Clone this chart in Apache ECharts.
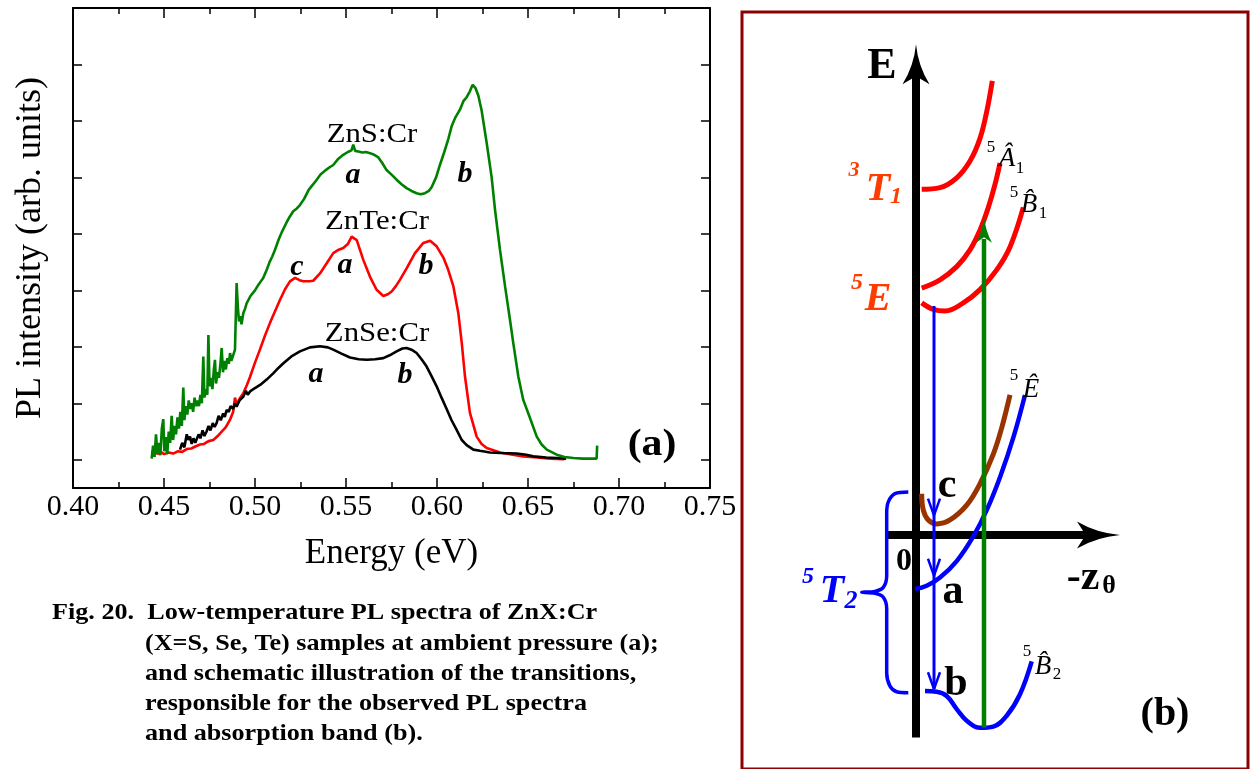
<!DOCTYPE html>
<html><head><meta charset="utf-8">
<script src="https://cdn.jsdelivr.net/npm/echarts@6/dist/echarts.min.js"></script>
<style>html,body{margin:0;padding:0;background:#fff}#c{width:1250px;height:769px}</style>
</head><body><div id="c"></div>
<script>
// ---------- Panel (a) data ----------
const energyMin = 0.40, energyMax = 0.75, energyStep = 0.05;
const intensityTicks = [0, 1, 2, 3, 4, 5, 6, 7, 8];

const znsCr = [[0.4432,0.02],[0.4440,0.25],[0.4448,0.05],[0.4456,0.45],[0.4464,0.10],[0.4472,0.30],[0.4480,0.08],[0.4488,0.55],[0.4496,0.72],[0.4502,0.15],[0.4510,0.40],[0.4518,0.10],[0.4526,0.50],[0.4534,0.30],[0.4542,0.78],[0.4550,0.35],[0.4558,0.60],[0.4566,0.45],[0.4574,0.75],[0.4582,0.55],[0.4590,0.85],[0.4598,0.60],[0.4606,1.28],[0.4612,0.70],[0.4620,0.95],[0.4628,0.80],[0.4636,1.05],[0.4644,0.90],[0.4652,1.00],[0.4660,0.85],[0.4668,1.10],[0.4676,0.95],[0.4684,1.05],[0.4692,0.95],[0.4700,1.15],[0.4708,1.00],[0.4716,1.83],[0.4722,1.10],[0.4730,1.25],[0.4738,1.15],[0.4744,2.21],[0.4750,1.30],[0.4758,1.45],[0.4766,1.25],[0.4774,1.60],[0.4780,1.77],[0.4786,1.35],[0.4794,1.55],[0.4802,1.45],[0.4810,1.70],[0.4817,1.98],[0.4824,1.55],[0.4832,1.75],[0.4840,1.60],[0.4848,1.80],[0.4856,1.70],[0.4863,1.89],[0.4870,1.75],[0.4880,1.85],[0.4890,1.95],[0.4899,3.13],[0.4906,2.70],[0.4912,2.45],[0.4918,2.54],[0.4926,2.40],[0.4936,2.60],[0.4946,2.68],[0.4954,2.77],[0.4964,2.75],[0.4975,2.90],[0.4985,2.88],[0.5000,3.00],[0.5015,3.08],[0.5030,3.15],[0.5045,3.22],[0.5064,3.36],[0.5080,3.50],[0.5095,3.60],[0.5110,3.72],[0.5130,3.90],[0.5150,4.05],[0.5170,4.18],[0.5190,4.30],[0.5210,4.40],[0.5230,4.45],[0.5247,4.51],[0.5270,4.62],[0.5295,4.78],[0.5320,4.88],[0.5339,4.96],[0.5360,5.05],[0.5385,5.12],[0.5410,5.18],[0.5430,5.22],[0.5455,5.32],[0.5485,5.40],[0.5510,5.45],[0.5530,5.48],[0.5540,5.58],[0.5550,5.47],[0.5568,5.46],[0.5590,5.44],[0.5610,5.45],[0.5632,5.43],[0.5655,5.40],[0.5676,5.36],[0.5700,5.25],[0.5723,5.13],[0.5750,5.05],[0.5778,4.96],[0.5805,4.88],[0.5833,4.81],[0.5860,4.76],[0.5888,4.72],[0.5910,4.70],[0.5934,4.72],[0.5955,4.76],[0.5971,4.83],[0.5995,5.00],[0.6016,5.22],[0.6040,5.45],[0.6062,5.68],[0.6080,5.90],[0.6099,6.05],[0.6126,6.20],[0.6145,6.35],[0.6163,6.42],[0.6180,6.52],[0.6196,6.64],[0.6212,6.58],[0.6227,6.45],[0.6245,6.19],[0.6273,5.61],[0.6300,5.01],[0.6319,4.42],[0.6346,3.72],[0.6374,3.07],[0.6401,2.48],[0.6419,2.07],[0.6447,1.47],[0.6474,1.06],[0.6511,0.74],[0.6548,0.41],[0.6575,0.27],[0.6603,0.18],[0.6658,0.09],[0.6700,0.05],[0.6749,0.03],[0.6800,0.02],[0.6877,0.02],[0.6880,0.25]];

const znteCr = [[0.4432,0.12],[0.4450,0.18],[0.4465,0.10],[0.4478,0.15],[0.4500,0.10],[0.4525,0.13],[0.4551,0.11],[0.4575,0.15],[0.4600,0.14],[0.4625,0.19],[0.4650,0.20],[0.4675,0.24],[0.4698,0.27],[0.4720,0.28],[0.4745,0.33],[0.4771,0.35],[0.4795,0.42],[0.4817,0.50],[0.4840,0.58],[0.4863,0.71],[0.4880,0.85],[0.4890,1.10],[0.4899,0.98],[0.4915,1.08],[0.4936,1.18],[0.4955,1.32],[0.4973,1.47],[0.5000,1.72],[0.5027,1.95],[0.5055,2.20],[0.5082,2.42],[0.5110,2.63],[0.5137,2.83],[0.5165,3.02],[0.5192,3.16],[0.5220,3.22],[0.5245,3.18],[0.5265,3.16],[0.5300,3.16],[0.5320,3.17],[0.5357,3.30],[0.5394,3.48],[0.5430,3.66],[0.5460,3.72],[0.5485,3.75],[0.5510,3.82],[0.5531,3.95],[0.5559,3.89],[0.5595,3.54],[0.5632,3.24],[0.5668,3.01],[0.5705,2.90],[0.5730,2.93],[0.5751,2.98],[0.5775,3.08],[0.5797,3.19],[0.5833,3.39],[0.5879,3.66],[0.5925,3.84],[0.5962,3.88],[0.5998,3.78],[0.6035,3.58],[0.6060,3.38],[0.6090,3.07],[0.6117,2.60],[0.6136,2.07],[0.6154,1.47],[0.6181,0.83],[0.6218,0.41],[0.6245,0.28],[0.6273,0.21],[0.6346,0.13],[0.6400,0.10],[0.6474,0.06],[0.6550,0.04],[0.6621,0.02],[0.6700,0.01]];

const znseCr = [[0.4588,0.18],[0.4600,0.30],[0.4612,0.22],[0.4625,0.45],[0.4634,0.35],[0.4643,0.41],[0.4652,0.28],[0.4662,0.38],[0.4672,0.30],[0.4680,0.32],[0.4690,0.45],[0.4700,0.38],[0.4712,0.52],[0.4722,0.42],[0.4734,0.50],[0.4745,0.60],[0.4755,0.52],[0.4768,0.65],[0.4778,0.58],[0.4789,0.65],[0.4800,0.78],[0.4812,0.70],[0.4825,0.82],[0.4834,0.76],[0.4844,0.88],[0.4856,0.85],[0.4866,0.95],[0.4880,0.90],[0.4890,1.00],[0.4899,0.94],[0.4915,1.05],[0.4936,1.12],[0.4950,1.22],[0.4960,1.15],[0.4973,1.21],[0.5000,1.27],[0.5030,1.33],[0.5064,1.42],[0.5100,1.53],[0.5130,1.63],[0.5156,1.71],[0.5200,1.83],[0.5247,1.92],[0.5302,1.99],[0.5357,2.01],[0.5400,1.99],[0.5430,1.95],[0.5475,1.88],[0.5522,1.81],[0.5570,1.78],[0.5614,1.77],[0.5660,1.78],[0.5705,1.80],[0.5740,1.85],[0.5778,1.92],[0.5810,1.97],[0.5833,1.98],[0.5860,1.95],[0.5888,1.89],[0.5915,1.78],[0.5943,1.65],[0.5970,1.48],[0.5998,1.30],[0.6025,1.10],[0.6053,0.90],[0.6080,0.70],[0.6108,0.53],[0.6136,0.35],[0.6163,0.26],[0.6200,0.18],[0.6236,0.16],[0.6291,0.13],[0.6350,0.12],[0.6438,0.11],[0.6490,0.09],[0.6529,0.06],[0.6600,0.04],[0.6658,0.03],[0.6710,0.02]];

// ---------- Panel (b) schematic data (z, E in schematic units) ----------
const level3T1   = [[4.7,350.3],[23,352],[39.7,362],[53,379],[63,402],[69.7,429],[75.3,460.3]];
const level5A1   = [[4.7,250.3],[23,258.7],[39.7,272],[53,289],[63,309],[71.3,332],[78,355.3],[83,377]];
const level5B1   = [[4.7,235.3],[16.3,228.7],[28,227],[46.3,235.3],[63,248.7],[79.7,268.7],[93,292],[106.3,332]];
const level5Ehat = [[4.7,42],[6.3,25.3],[11.3,15.3],[19.7,11.3],[33,15.3],[49.7,30.3],[63,52],[76.3,82],[84.7,108.7],[93,142]];
const level5T2a  = [[-2,-54.7],[9.7,-51.3],[23,-43],[39.7,-26.3],[56.3,-1.3],[69.7,25.3],[83,58.7],[96.3,98.7],[108,142]];
const level5B2   = [[8,-158],[19.7,-158.7],[29.7,-163],[39.7,-176.3],[49.7,-188],[63,-195.3],[76.3,-194],[89.7,-183],[103,-161.3],[114.7,-128]];
const brace5T2   = [[-8.7,43.7],[-22,42],[-28.7,33.7],[-30.3,22],[-30.3,-41.3],[-33.7,-53],[-42,-57],[-55.3,-58],[-42,-59],[-33.7,-63],[-30.3,-74.7],[-30.3,-139.7],[-27,-153],[-20.3,-158.7],[-8.7,-159.7]];
const emissionLine = [[17,232],[17,-156]];
const chevronC = [[11,37],[17,20],[23,37]];
const chevronA = [[11,-24],[17,-41],[23,-24]];
const chevronB = [[11,-139],[17,-156],[23,-139]];
const absorptionLine = [[67,-195],[67,300]];
const energyAxis = [[-1,-205],[-1,470]];
const zAxis = [[-29,0],[180,0]];
const energyArrowHead = [[-1,477]];
const zArrowHead = [[181.5,0]];
const absorptionArrowHead = [[67,310]];

// ---------- chart ----------
const F = "'Liberation Serif','Times New Roman',serif";
const chart = echarts.init(document.getElementById('c'), null, {renderer: 'canvas', width: 1250, height: 769});

function txt(x, y, text, size, o) {
  o = o || {};
  return {type: 'text', x: x, y: y, z: 100, silent: true, scaleX: o.sx || 1,
    style: {text: text, fontFamily: F, fontSize: size, fontWeight: o.w || 'normal',
      fontStyle: o.i ? 'italic' : 'normal', fill: o.c || '#000',
      align: o.a || 'center', verticalAlign: 'middle'}};
}

const ORANGE = '#ff3c00', BLUE = '#0000ff';
const UP = 'path://M50,0 Q58,55 100,100 L50,80 L0,100 Q42,55 50,0 Z';
const RIGHT = 'path://M100,50 Q45,58 0,100 L20,50 L0,0 Q45,42 100,50 Z';

function frameX(pos, showLabel) {
  return {type: 'value', gridIndex: 0, min: energyMin, max: energyMax, interval: energyStep, position: pos,
    axisLine: {onZero: false, lineStyle: {color: '#000', width: 2}},
    axisTick: {inside: true, length: 10, lineStyle: {color: '#000', width: 1.5}},
    minorTick: {show: true, splitNumber: 2, length: 6, lineStyle: {color: '#000', width: 1.5}},
    axisLabel: {show: showLabel, formatter: v => v.toFixed(2), fontFamily: F, fontSize: 30, color: '#000', margin: 4,
      showMinLabel: true, showMaxLabel: true},
    splitLine: {show: false}, minorSplitLine: {show: false}};
}
function frameY(pos) {
  return {type: 'value', gridIndex: 0, min: -0.5, max: 8, position: pos,
    axisLine: {onZero: false, lineStyle: {color: '#000', width: 2}},
    axisTick: {inside: true, length: 9, customValues: intensityTicks, lineStyle: {color: '#000', width: 1.5}},
    axisLabel: {show: false}, splitLine: {show: false}};
}
const xBottom = frameX('bottom', true);
xBottom.name = 'Energy (eV)'; xBottom.nameLocation = 'middle'; xBottom.nameGap = 48;
xBottom.nameTextStyle = {fontFamily: F, fontSize: 35, color: '#000'};
const yLeft = frameY('left');
yLeft.name = 'PL intensity (arb. units)'; yLeft.nameLocation = 'middle'; yLeft.nameGap = 24;
yLeft.nameTextStyle = {fontFamily: F, fontSize: 36, color: '#000'};

function spec(name, data, color) {
  return {name: name, type: 'line', xAxisIndex: 0, yAxisIndex: 0, data: data, showSymbol: false, symbol: 'none',
    lineStyle: {color: color, width: 2.6}, itemStyle: {color: color}, z: 3};
}
function sch(name, data, color, width, smooth, z) {
  return {name: name, type: 'line', xAxisIndex: 2, yAxisIndex: 2, data: data, symbol: 'none', smooth: smooth,
    lineStyle: {color: color, width: width, cap: 'butt'}, itemStyle: {color: color}, z: z || 5, silent: true};
}
function head(name, data, sym, size, color) {
  return {name: name, type: 'scatter', xAxisIndex: 2, yAxisIndex: 2, data: data, symbol: sym, symbolSize: size,
    itemStyle: {color: color, opacity: 1}, z: 6, silent: true};
}

const option = {
  animation: false,
  backgroundColor: '#fff',
  grid: [
    {left: 73, top: 8, width: 637, height: 480, containLabel: false},
    {left: 742, top: 12, width: 506, height: 767, show: true, borderColor: '#8b0000', borderWidth: 3, backgroundColor: 'transparent'}
  ],
  xAxis: [xBottom, frameX('top', false),
    {type: 'value', gridIndex: 1, min: -175, max: 331, show: false}],
  yAxis: [yLeft, frameY('right'),
    {type: 'value', gridIndex: 1, min: -237, max: 530, show: false}],
  series: [
    spec('ZnTe:Cr', znteCr, '#ff0000'),
    spec('ZnSe:Cr', znseCr, '#000000'),
    spec('ZnS:Cr', znsCr, '#008000'),
    sch('E axis', energyAxis, '#000', 8, false, 2),
    sch('z axis', zAxis, '#000', 8, false, 2),
    head('E arrow', energyArrowHead, UP, [27, 40], '#000'),
    head('z arrow', zArrowHead, RIGHT, [43, 27], '#000'),
    sch('3T1', level3T1, '#ff0000', 5, 0.4),
    sch('5A1', level5A1, '#ff0000', 5, 0.4),
    sch('5B1', level5B1, '#ff0000', 5, 0.4),
    sch('5E hat', level5Ehat, '#993300', 5, 0.4),
    sch('5T2 a', level5T2a, BLUE, 4.5, 0.4),
    sch('5B2', level5B2, BLUE, 4.5, 0.4),
    sch('brace', brace5T2, BLUE, 3.5, 0.3),
    sch('emission', emissionLine, BLUE, 3, false, 7),
    sch('chev c', chevronC, BLUE, 2.5, false, 7),
    sch('chev a', chevronA, BLUE, 2.5, false, 7),
    sch('chev b', chevronB, BLUE, 2.5, false, 7),
    sch('absorption', absorptionLine, '#008000', 4.5, false, 7),
    head('abs arrow', absorptionArrowHead, UP, [16, 27], '#008000')
  ],
  graphic: [
    // panel (a) labels
    txt(372, 135, 'ZnS:Cr', 28, {sx: 1.1}),
    txt(377, 222, 'ZnTe:Cr', 28, {sx: 1.1}),
    txt(377, 334, 'ZnSe:Cr', 28, {sx: 1.1}),
    txt(353, 175, 'a', 30, {w: 'bold', i: true}),
    txt(465, 174, 'b', 30, {w: 'bold', i: true}),
    txt(297, 267, 'c', 30, {w: 'bold', i: true}),
    txt(345, 265, 'a', 30, {w: 'bold', i: true}),
    txt(426, 266, 'b', 30, {w: 'bold', i: true}),
    txt(316, 374, 'a', 30, {w: 'bold', i: true}),
    txt(405, 375, 'b', 30, {w: 'bold', i: true}),
    txt(652, 445, '(a)', 38, {w: 'bold', sx: 1.1}),
    // caption
    txt(52, 613, 'Fig. 20.  Low-temperature PL spectra of ZnX:Cr', 24, {w: 'bold', a: 'left', sx: 1.09}),
    txt(145, 644, '(X=S, Se, Te) samples at ambient pressure (a);', 24, {w: 'bold', a: 'left', sx: 1.09}),
    txt(145, 674, 'and schematic illustration of the transitions,', 24, {w: 'bold', a: 'left', sx: 1.09}),
    txt(145, 704, 'responsible for the observed PL spectra', 24, {w: 'bold', a: 'left', sx: 1.09}),
    txt(145, 734, 'and absorption band (b).', 24, {w: 'bold', a: 'left', sx: 1.09}),
    // panel (b) labels
    txt(882, 67, 'E', 44, {w: 'bold'}),
    txt(854, 170, '3', 22, {w: 'bold', i: true, c: ORANGE}),
    txt(878, 190, 'T', 40, {w: 'bold', i: true, c: ORANGE}),
    txt(896, 197, '1', 24, {w: 'bold', i: true, c: ORANGE}),
    txt(857, 283, '5', 24, {w: 'bold', i: true, c: ORANGE}),
    txt(878, 300, 'E', 40, {w: 'bold', i: true, c: ORANGE}),
    txt(808, 577, '5', 24, {w: 'bold', i: true, c: BLUE}),
    txt(832, 592, 'T', 40, {w: 'bold', i: true, c: BLUE}),
    txt(851, 601, '2', 26, {w: 'bold', i: true, c: BLUE}),
    txt(904, 562, '0', 32, {w: 'bold'}),
    txt(1083, 578, '-z', 42, {w: 'bold'}),
    txt(1109, 586, '\u03b8', 26, {w: 'bold'}),
    txt(947, 486, 'c', 42, {w: 'bold'}),
    txt(953, 592, 'a', 42, {w: 'bold'}),
    txt(956, 684, 'b', 42, {w: 'bold'}),
    txt(1165, 715, '(b)', 40, {w: 'bold'}),
    txt(991, 148, '5', 17),
    txt(1007, 159, '\u00c2', 27, {i: true}),
    txt(1020, 169, '1', 17),
    txt(1014, 193, '5', 17),
    txt(1029, 205, 'B\u0302', 27, {i: true}),
    txt(1043, 214, '1', 17),
    txt(1014, 376, '5', 17),
    txt(1031, 390, '\u00ca', 27, {i: true}),
    txt(1027, 652, '5', 17),
    txt(1043, 667, 'B\u0302', 27, {i: true}),
    txt(1057, 675, '2', 17)
  ]
};
chart.setOption(option);
</script></body></html>
